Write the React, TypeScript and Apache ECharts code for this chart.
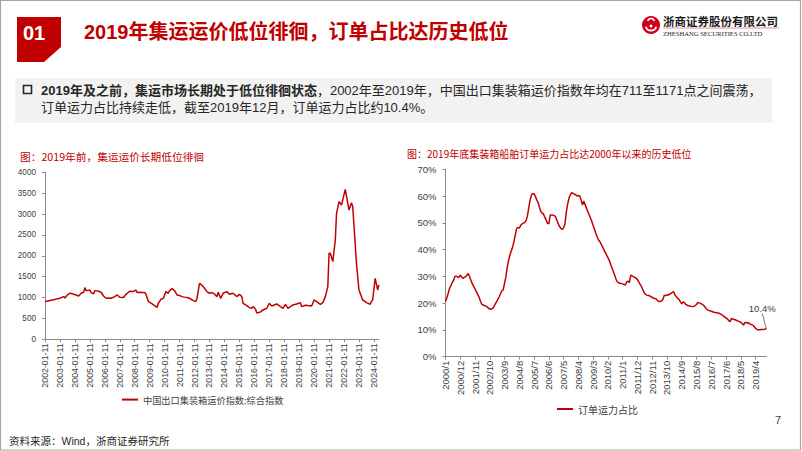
import React, { useEffect, useRef } from 'react';
import * as echarts from 'echarts';

// ---------- Left chart: 中国出口集装箱运价指数:综合指数 (CCFI) ----------
const ccfiMonths = [
  '2002-01','2002-03','2002-05','2002-08','2002-10',
  '2003-01','2003-03','2003-04','2003-05','2003-07','2003-08','2003-09','2003-11','2003-12',
  '2004-02','2004-04','2004-06','2004-08','2004-09','2004-10','2004-12',
  '2005-01','2005-02','2005-04','2005-05','2005-08','2005-10','2005-12',
  '2006-02','2006-04','2006-06','2006-09','2006-11',
  '2007-01','2007-04','2007-06','2007-09','2007-12',
  '2008-02','2008-03','2008-05','2008-07','2008-09','2008-10','2008-12',
  '2009-03','2009-05','2009-07','2009-08','2009-10','2009-12',
  '2010-02','2010-04','2010-05','2010-07','2010-09','2010-11',
  '2011-01','2011-03','2011-05','2011-07','2011-09','2011-12',
  '2012-02','2012-03','2012-05','2012-06','2012-08','2012-11',
  '2013-01','2013-03','2013-05','2013-07','2013-08','2013-10','2013-12',
  '2014-03','2014-05','2014-08','2014-11',
  '2015-01','2015-03','2015-04','2015-07','2015-09','2015-11','2015-12',
  '2016-02','2016-03','2016-06','2016-08','2016-11',
  '2017-01','2017-03','2017-07','2017-10','2017-12',
  '2018-02','2018-04','2018-06','2018-08','2018-11',
  '2019-02','2019-03','2019-06','2019-08','2019-11',
  '2020-01','2020-03','2020-06','2020-08','2020-10','2020-12',
  '2021-01','2021-02','2021-04','2021-06','2021-07','2021-09','2021-11',
  '2022-02','2022-05','2022-07','2022-08','2022-11',
  '2023-01','2023-04','2023-07','2023-10','2023-11','2023-12',
  '2024-02','2024-04','2024-05',
];
const ccfiValues = [
  905, 915, 927, 945, 967,
  983, 1010, 1022, 990, 1060, 1086, 1102, 1090, 1078,
  1062, 1038, 1102, 1126, 1238, 1166, 1175,
  1182, 1118, 1086, 1166, 1150, 1126, 1038,
  983, 990, 983, 1022, 1062,
  1006, 1000, 1078, 1150, 1142,
  1182, 1118, 1126, 1120, 1118, 1086, 903,
  847, 807, 767, 863, 958, 983,
  1142, 1102, 1166, 1214, 1166, 1062,
  1050, 1022, 1010, 1000, 983, 927,
  903, 980, 1342, 1320, 1262, 1142,
  1103, 1120, 1086, 1022, 1126, 982, 1103,
  1142, 1078, 1103, 1022,
  1078, 1022, 863, 807, 759, 743, 783,
  719, 631, 655, 703, 743,
  863, 799, 847, 783, 743,
  839, 743, 783, 823, 847,
  879, 783, 815, 807, 799,
  943, 903, 839, 879, 1022, 1262,
  2060, 2060, 1860, 2379, 3017, 3297, 3217,
  3592, 3097, 3273, 3177, 1820,
  1182, 943, 880, 839, 903, 943,
  1461, 1182, 1302,
];
const ccfiTickYears = [
  2002, 2003, 2004, 2005, 2006, 2007, 2008, 2009, 2010, 2011, 2012, 2013,
  2014, 2015, 2016, 2017, 2018, 2019, 2020, 2021, 2022, 2023, 2024,
];

// ---------- Right chart: 订单运力占比 (%), monthly 2000/1 - 2019/12 ----------
const orderStartYear = 2000;
const orderEndYear = 2019;
const orderRatio = [
  20.6, 22.0, 23.7, 25.5, 26.5, 27.7, 28.5, 30.0, 30.1, 29.8, 29.6, 30.5,
  29.8, 29.3, 29.6, 29.9, 30.5, 31.1, 29.8, 28.5, 27.2, 26.3, 25.3, 24.3,
  23.3, 22.3, 20.8, 19.6, 19.3, 19.1, 18.9, 18.6, 18.1, 17.8, 17.7, 18.0,
  18.6, 19.6, 20.5, 21.4, 22.4, 23.5, 24.6, 25.0, 27.5, 29.8, 33.5, 36.0,
  38.0, 39.5, 41.0, 43.0, 45.5, 47.9, 48.3, 48.0, 49.0, 49.6, 49.9, 50.1,
  50.8, 52.5, 55.5, 58.5, 60.3, 61.0, 60.8, 59.8, 58.6, 57.6, 55.8, 54.2,
  53.6, 53.3, 52.0, 51.1, 49.8, 49.6, 52.9, 52.9, 52.9, 52.7, 52.3, 51.0,
  49.6, 48.6, 47.9, 47.5, 48.2, 49.6, 54.0, 57.0, 59.2, 60.5, 61.3, 61.0,
  60.7, 60.5, 60.0, 60.2, 60.0, 58.5, 56.7, 58.2, 56.8, 55.5, 54.2, 53.0,
  51.8, 50.5, 49.0, 47.6, 46.0, 44.8, 43.6, 43.0, 42.0, 41.0, 40.0, 39.0,
  38.0, 37.0, 36.0, 34.5, 33.2, 31.8, 30.5, 29.0, 28.0, 27.6, 27.4, 27.3,
  27.2, 27.0, 26.8, 28.0, 28.2, 27.7, 30.5, 30.2, 29.9, 29.6, 29.3, 28.8,
  28.0, 27.0, 26.2, 25.0, 24.0, 23.3, 23.0, 22.9, 22.8, 22.4, 22.2, 21.8,
  21.7, 21.6, 21.0, 20.6, 20.7, 20.8, 21.5, 23.0, 22.8, 23.1, 23.0, 23.4,
  23.6, 24.0, 24.3, 23.0, 22.4, 21.8, 21.4, 20.5, 19.7, 20.5, 20.2, 19.5,
  19.3, 19.0, 18.9, 18.8, 18.7, 18.8, 19.1, 19.5, 20.3, 20.1, 19.9, 19.6,
  19.3, 18.8, 18.1, 17.6, 17.3, 17.2, 17.0, 16.8, 16.6, 16.5, 16.4, 16.3,
  16.2, 15.9, 15.6, 15.2, 14.9, 14.5, 14.1, 13.5, 13.1, 14.3, 14.1, 13.9,
  13.8, 13.5, 13.3, 13.1, 12.8, 12.4, 11.8, 12.7, 12.8, 12.7, 12.5, 12.2,
  12.0, 11.8, 11.2, 10.6, 10.2, 10.0, 10.1, 10.2, 10.2, 10.2, 10.3, 10.4,
];
const orderLastLabel = '10.4%';

// ---------- Texts ----------
const pageTitle = '2019年集运运价低位徘徊，订单占比达历史低位';
const sectionNo = '01';
const bulletBold = '2019年及之前，集运市场长期处于低位徘徊状态';
const bulletRest1 = '，2002年至2019年，中国出口集装箱运价指数年均在711至1171点之间震荡，';
const bulletLine2 = '订单运力占比持续走低，截至2019年12月，订单运力占比约10.4%。';
const leftTitle = '图：2019年前，集运运价长期低位徘徊';
const rightTitle = '图：2019年底集装箱船舶订单运力占比达2000年以来的历史低位';
const leftSeriesName = '中国出口集装箱运价指数:综合指数';
const rightSeriesName = '订单运力占比';
const sourceText = '资料来源：Wind，浙商证券研究所';
const pageNo = '7';
const logoCn = '浙商证券股份有限公司';
const logoEn = 'ZHESHANG SECURITIES CO.LTD';

const RED = '#C00000';
const AXIS = '#8c8c8c';
const LABEL = '#404040';
const SANS = '"Liberation Sans", "Noto Sans CJK SC", sans-serif';
const CJK = '"Noto Sans CJK SC", "Liberation Sans", sans-serif';

function buildOption() {
  const ccfiData = ccfiMonths.map((m, i) => {
    const [y, mo] = m.split('-').map(Number);
    return [y + (mo - 1) / 12, ccfiValues[i]];
  });
  const orderCats: string[] = [];
  for (let y = orderStartYear; y <= orderEndYear; y++) {
    for (let m = 1; m <= 12; m++) orderCats.push(`${y}/${m}`);
  }
  const last = orderRatio.length - 1;
  const orderData = orderRatio.map((v, i) =>
    i === last
      ? {
          value: v,
          symbol: 'circle',
          symbolSize: 1,
          itemStyle: { color: RED },
          label: {
            show: true,
            position: 'top',
            formatter: orderLastLabel,
            fontSize: 9.5,
            color: LABEL,
            fontFamily: SANS,
          },
          labelLine: { show: true, lineStyle: { color: '#595959', width: 0.8 } },
        }
      : v
  );

  const axisLabelBase = { color: LABEL, fontFamily: SANS };

  return {
    animation: false,
    backgroundColor: '#ffffff',
    title: [
      {
        text: leftTitle,
        left: 20,
        top: 151,
        padding: 0,
        textStyle: { fontSize: 10.7, color: RED, fontWeight: 'normal', fontFamily: CJK },
      },
      {
        text: rightTitle,
        left: 407,
        top: 148,
        padding: 0,
        textStyle: { fontSize: 10, color: RED, fontWeight: 'normal', fontFamily: CJK },
      },
    ],
    legend: [
      {
        data: [leftSeriesName],
        left: 122,
        top: 395,
        padding: 0,
        icon: 'rect',
        itemWidth: 16,
        itemHeight: 2,
        textStyle: { fontSize: 9.2, color: LABEL, fontFamily: CJK },
      },
      {
        data: [rightSeriesName],
        left: 557,
        top: 404,
        padding: 0,
        icon: 'rect',
        itemWidth: 16,
        itemHeight: 2,
        textStyle: { fontSize: 10, color: LABEL, fontFamily: CJK },
      },
    ],
    grid: [
      { left: 45, top: 172.3, width: 334, height: 167, outerBoundsMode: 'none', containLabel: false },
      { left: 445.5, top: 169.3, width: 320.8, height: 187.4, outerBoundsMode: 'none', containLabel: false },
    ],
    xAxis: [
      {
        type: 'value',
        gridIndex: 0,
        min: 2002,
        max: 2024.34,
        interval: 1,
        splitLine: { show: false },
        axisLine: { show: true, lineStyle: { color: AXIS, width: 1 } },
        axisTick: { show: true, length: 3, lineStyle: { color: AXIS }, customValues: ccfiTickYears },
        axisLabel: {
          ...axisLabelBase,
          fontSize: 8.8,
          rotate: 90,
          margin: 4,
          customValues: ccfiTickYears,
          formatter: (v: number) => `${Math.round(v)}-01-11`,
        },
      },
      {
        type: 'category',
        gridIndex: 1,
        data: orderCats,
        boundaryGap: false,
        splitLine: { show: false },
        axisLine: { show: true, lineStyle: { color: AXIS, width: 1 } },
        axisTick: { show: true, length: 3, interval: 10, lineStyle: { color: AXIS } },
        axisLabel: { ...axisLabelBase, fontSize: 9.5, rotate: 90, margin: 4, interval: 10 },
      },
    ],
    yAxis: [
      {
        type: 'value',
        gridIndex: 0,
        min: 0,
        max: 4000,
        interval: 500,
        splitLine: { show: false },
        axisLine: { show: true, lineStyle: { color: AXIS, width: 1 } },
        axisTick: { show: true, length: 3, lineStyle: { color: AXIS } },
        axisLabel: { ...axisLabelBase, fontSize: 8.2, margin: 9, formatter: (v: number) => String(v) },
      },
      {
        type: 'value',
        gridIndex: 1,
        min: 0,
        max: 70,
        interval: 10,
        splitLine: { show: false },
        axisLine: { show: true, lineStyle: { color: AXIS, width: 1 } },
        axisTick: { show: true, length: 3, lineStyle: { color: AXIS } },
        axisLabel: { ...axisLabelBase, fontSize: 9.5, margin: 9, formatter: (v: number) => `${v}%` },
      },
    ],
    series: [
      {
        name: leftSeriesName,
        type: 'line',
        xAxisIndex: 0,
        yAxisIndex: 0,
        data: ccfiData,
        showSymbol: false,
        symbol: 'none',
        lineStyle: { color: RED, width: 1.5 },
        itemStyle: { color: RED },
      },
      {
        name: rightSeriesName,
        type: 'line',
        xAxisIndex: 1,
        yAxisIndex: 1,
        data: orderData,
        symbol: 'none',
        showSymbol: true,
        showAllSymbol: true,
        lineStyle: { color: RED, width: 1.5 },
        itemStyle: { color: RED },
        labelLine: { show: true, lineStyle: { color: '#595959', width: 0.8 } },
        labelLayout: { dx: -4, dy: -10 },
      },
    ],
    graphic: [
      // page frame
      {
        type: 'rect',
        z: 100,
        shape: { x: 0.5, y: 0.5, width: 800, height: 449.5 },
        style: { fill: 'none', stroke: '#a6a6a6', lineWidth: 1.2 },
      },
      // section box
      {
        type: 'polygon',
        shape: { points: [[17, 17], [61, 17], [61, 47], [44, 62], [17, 62]] },
        style: { fill: RED },
      },
      {
        type: 'text',
        x: 34,
        y: 32.5,
        style: {
          text: sectionNo,
          fill: '#ffffff',
          fontSize: 20,
          fontWeight: 'bold',
          fontFamily: SANS,
          textAlign: 'center',
          textVerticalAlign: 'middle',
        },
      },
      {
        type: 'text',
        x: 84,
        y: 31.5,
        style: {
          text: pageTitle,
          fill: RED,
          fontSize: 20,
          fontWeight: 'bold',
          fontFamily: SANS,
          textAlign: 'left',
          textVerticalAlign: 'middle',
        },
      },
      // logo
      { type: 'circle', shape: { cx: 651, cy: 25, r: 9 }, style: { fill: '#D0021B' } },
      { type: 'arc', shape: { cx: 651, cy: 25, r: 5.5, startAngle: Math.PI * 0.1, endAngle: Math.PI * 0.9 }, style: { stroke: '#fff', lineWidth: 1.8, fill: 'none' } },
      { type: 'arc', shape: { cx: 651, cy: 22, r: 3.5, startAngle: Math.PI * 1.1, endAngle: Math.PI * 1.9 }, style: { stroke: '#fff', lineWidth: 1.6, fill: 'none' } },
      { type: 'circle', shape: { cx: 651, cy: 26, r: 1.4 }, style: { fill: '#fff' } },
      {
        type: 'text',
        x: 663,
        y: 21.2,
        style: {
          text: logoCn,
          fill: '#1a1a1a',
          fontSize: 11.5,
          fontWeight: 'bold',
          fontFamily: CJK,
          textAlign: 'left',
          textVerticalAlign: 'middle',
        },
      },
      { type: 'line', shape: { x1: 663, y1: 28, x2: 779, y2: 28 }, style: { stroke: '#e07080', lineWidth: 0.8 } },
      {
        type: 'text',
        x: 663,
        y: 33,
        style: {
          text: logoEn,
          fill: '#1a1a1a',
          fontSize: 6.6,
          fontFamily: '"Liberation Serif", serif',
          textAlign: 'left',
          textVerticalAlign: 'middle',
        },
      },
      // summary box
      { type: 'rect', shape: { x: 15, y: 78, width: 757, height: 45 }, style: { fill: '#F2F2F2' } },
      { type: 'rect', shape: { x: 23.5, y: 85.5, width: 8, height: 8 }, style: { fill: 'none', stroke: '#262626', lineWidth: 1.6 } },
      {
        type: 'text',
        x: 41,
        y: 90,
        style: {
          text: `{b|${bulletBold}}{n|${bulletRest1}}`,
          textVerticalAlign: 'middle',
          textAlign: 'left',
          rich: {
            b: { fontSize: 13, fontWeight: 'bold', fontFamily: SANS, fill: '#262626' },
            n: { fontSize: 13, fontWeight: 'normal', fontFamily: SANS, fill: '#262626' },
          },
        },
      },
      {
        type: 'text',
        x: 41,
        y: 107.5,
        style: {
          text: bulletLine2,
          fill: '#262626',
          fontSize: 13,
          fontFamily: SANS,
          textAlign: 'left',
          textVerticalAlign: 'middle',
        },
      },
      // footer
      {
        type: 'text',
        x: 778,
        y: 420,
        style: { text: pageNo, fill: LABEL, fontSize: 11, fontFamily: SANS, textAlign: 'center', textVerticalAlign: 'middle' },
      },
      {
        type: 'text',
        x: 9,
        y: 441,
        style: { text: sourceText, fill: '#262626', fontSize: 10.5, fontFamily: SANS, textAlign: 'left', textVerticalAlign: 'middle' },
      },
    ],
  };
}

export default function App() {
  const ref = useRef<HTMLDivElement>(null);
  useEffect(() => {
    document.body.style.margin = '0';
    if (!ref.current) return;
    const chart = echarts.init(ref.current, null, { renderer: 'svg' });
    chart.setOption(buildOption() as any);
    return () => chart.dispose();
  }, []);
  return <div ref={ref} style={{ width: 802, height: 451, position: 'absolute', left: 0, top: 0 }} />;
}
